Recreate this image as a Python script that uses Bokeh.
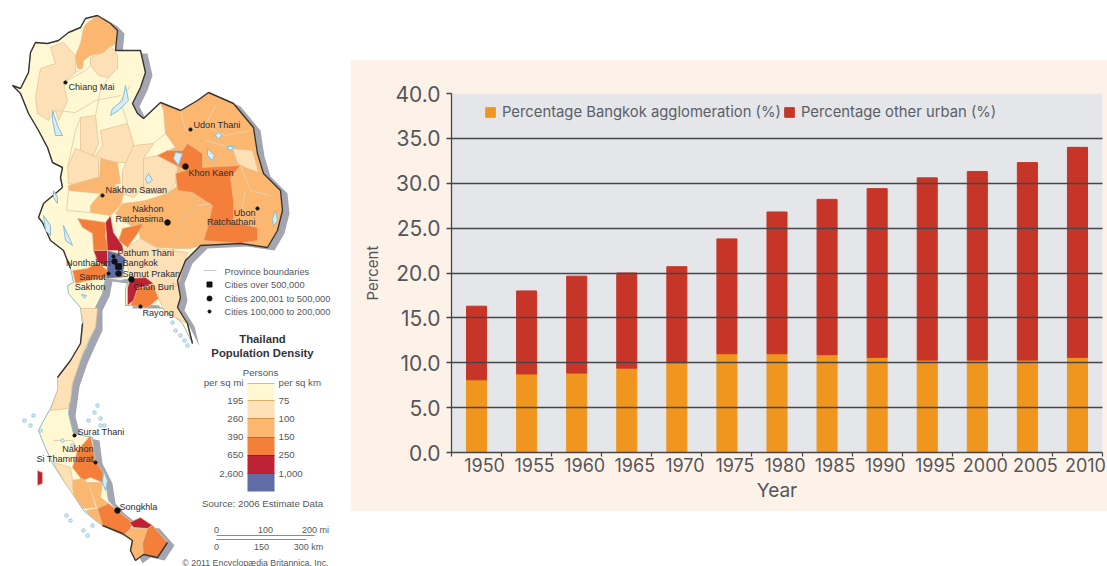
from bokeh.plotting import figure
from bokeh.embed import file_html
from bokeh.resources import INLINE
from bokeh.layouts import row
from bokeh.models import (ColumnDataSource, Range1d, FixedTicker, NumeralTickFormatter,
                          Legend, LegendItem, LinearAxis)
from bokeh.core.properties import value

# ---------- chart data ----------
years = [1950, 1955, 1960, 1965, 1970, 1975, 1980, 1985, 1990, 1995, 2000, 2005, 2010]
bangkok = [8.1, 8.75, 8.85, 9.4, 10.0, 11.0, 11.0, 10.9, 10.6, 10.3, 10.3, 10.3, 10.6]
other_urban = [8.2, 9.25, 10.8, 10.6, 10.7, 12.8, 15.8, 17.3, 18.8, 20.3, 21.0, 22.0, 23.4]
y_ticks = [0, 5, 10, 15, 20, 25, 30, 35, 40]
series_names = ["Percentage Bangkok agglomeration (%)", "Percentage other urban (%)"]

# ---------- map data (traced outline and provinces) ----------
C = ["#fff8d2", "#fde0b6", "#fbb670", "#f47f3a", "#bd2334", "#5f6ca5"]
outline = [(12,85),(20,88),(28,72),(30,52),(35,42),(47,43),(58,40),(68,32),(80,27),(85,18),(97,15),(110,23),(117,30),
    (115,50),(128,50),(140,50),(145,72),(140,87),(132,103),(137,113),(143,118),(160,102),(180,110),(197,100),(208,92),
    (233,103),(253,127),(257,153),(263,173),(280,190),(282,210),(277,230),(267,247),(240,243),(200,245),(192,253),
    (185,260),(177,280),(180,297),(177,307),(187,323),(192,343),(182,323),(173,315),(157,305),(140,305),(125,305),
    (125,287),(130,278),(120,280),(105,278),(102,293),(95,307),(95,327),(88,342),(80,360),(72,383),(68,413),(73,433),
    (92,437),(95,460),(105,480),(108,500),(117,510),(132,522),(152,525),(167,542),(157,557),(143,554),(135,560),
    (130,550),(132,540),(122,533),(102,525),(95,520),(83,510),(72,493),(63,480),(52,463),(43,443),(38,430),(43,420),
    (50,408),(57,390),(57,377),(70,360),(80,343),(82,323),(80,307),(68,293),(67,285),(73,282),(70,268),
    (63,250),(50,240),(42,222),(38,217),(43,203),(62,187),(60,177),(62,167),(52,162),(47,147),(38,130),(28,113),(20,93)]
provinces = [
    (1,[(50,47),(55,63),(40,68),(35,97),(37,113),(48,120),(55,110),(58,120),(67,100),(63,82),(75,72),(75,55),(63,42)]),
    (2,[(83,28),(86,23),(97,15),(110,23),(117,30),(115,43),(103,52),(90,55),(83,60),(82,68),(77,68),(75,55),(80,43)]),
    (1,[(90,57),(103,52),(110,45),(117,55),(117,68),(108,77),(98,75),(90,65)]),
    (1,[(80,117),(95,115),(98,143),(93,155),(80,152)]),
    (1,[(100,130),(127,123),(133,143),(132,162),(110,162),(95,155),(102,145)]),
    (1,[(75,148),(92,155),(98,158),(98,183),(80,185),(68,183),(67,167)]),
    (2,[(100,158),(117,162),(120,183),(108,185),(99,178)]),
    (1,[(133,145),(153,143),(143,158),(143,187),(133,197),(122,193),(122,170)]),
    (1,[(143,158),(157,155),(177,165),(175,183),(167,193),(143,193)]),
    (2,[(68,185),(97,177),(115,185),(123,193),(120,205),(110,215),(90,212),(90,205),(100,193),(68,190)]),
    (2,[(122,203),(132,202),(145,200),(167,193),(177,185),(192,193),(197,205),(180,222),(178,237),(190,248),(177,248),
        (157,247),(140,238),(138,230),(123,220),(115,213)]),
    (2,[(163,110),(160,102),(180,110),(197,100),(208,92),(233,103),(253,127),(257,153),(263,173),(280,190),(282,210),
        (277,230),(267,247),(240,243),(200,245),(190,248),(178,237),(180,222),(197,205),(192,193),(177,185),(177,165),
        (157,155),(175,147),(165,133)]),
    (1,[(232,148),(252,150),(258,172),(247,168),(237,163)]),
    (3,[(157,155),(167,150),(182,150),(187,143),(202,153),(202,167),(240,165),(230,177),(233,200),(233,222),(257,227),
        (257,240),(240,243),(203,240),(207,227),(212,205),(192,192),(177,190),(175,173),(185,170)]),
    (1,[(140,238),(157,248),(187,252),(178,283),(157,290),(145,277),(130,278),(125,258),(118,252),(123,250),(127,247)]),
    (1,[(157,290),(178,285),(180,297),(177,307),(187,323),(165,312),(158,298)]),
    (3,[(77,218),(92,220),(105,222),(105,237),(110,250),(93,250),(92,233),(82,227)]),
    (3,[(122,228),(143,223),(137,233),(127,247),(118,240)]),
    (4,[(110,215),(113,232),(122,245),(123,250),(107,250),(105,222)]),
    (4,[(93,250),(107,250),(107,267),(97,261)]),
    (5,[(107,250),(118,253),(125,258),(122,277),(105,278),(107,265)]),
    (3,[(72,270),(87,268),(97,262),(107,270),(105,278),(88,280),(75,283)]),
    (3,[(137,288),(153,285),(158,298),(147,307),(130,305),(133,298)]),
    (4,[(127,287),(130,278),(145,277),(153,283),(137,288),(133,300),(127,305)]),
    (1,[(80,308),(97,308),(95,327),(85,345),(72,383),(70,400),(67,408),(50,410),(57,390),(57,377),(70,360),(80,343),(83,323)]),
    (3,[(90,435),(95,460),(107,480),(102,482),(90,477),(82,480),(72,467),(77,450)]),
    (2,[(72,480),(82,478),(88,483),(95,507),(83,508),(73,495)]),
    (2,[(88,482),(102,482),(100,497),(108,503),(97,508)]),
    (1,[(53,462),(70,467),(72,480),(73,495),(63,480)]),
    (2,[(85,510),(97,508),(102,525),(95,520)]),
    (3,[(97,508),(108,503),(117,510),(132,522),(130,528),(123,535),(102,525)]),
    (4,[(129,522),(140,517),(152,525),(147,528),(133,527)]),
    (2,[(123,535),(130,528),(147,528),(142,543),(143,554),(135,560),(130,550),(132,540)]),
    (3,[(147,528),(152,525),(167,542),(157,557),(143,554),(142,543)]),
    (4,[(37,470),(42,472),(42,483),(37,485)]),
]
boundary_lines = [[(63,82),(85,70),(90,65)],[(75,72),(82,68)],[(95,115),(100,90),(108,77)],[(55,110),(75,112),(95,100),(120,95)],
    [(67,167),(75,130),(80,117)],[(127,123),(120,100),(130,85)],[(68,190),(66,210),(90,212)],[(153,143),(165,133)],
    [(180,110),(185,130),(205,125),(215,105)],[(205,125),(225,135),(250,130)],[(205,140),(230,147)],[(197,205),(210,203)],
    [(240,165),(250,190),(270,195)],[(245,190),(240,215)],[(53,440),(72,440),(77,450)]]
borders = [[(62,187),(60,177),(62,167),(52,162),(47,147),(38,130),(28,113),(20,93),(12,85),(20,88),(28,72),(30,52),(35,42),
            (47,43),(58,40),(68,32),(80,27),(85,18),(97,15),(110,23),(117,30),(115,50),(128,50),(140,50),(145,72),(140,87),
            (132,103),(137,113),(143,118),(160,102),(180,110),(197,100),(208,92),(233,103),(253,127),(257,153),(263,173),
            (280,190),(282,210),(277,230),(267,247),(240,243),(200,245),(192,253),(185,260),(177,280),(180,297),(177,307),
            (187,323),(192,343)],
           [(82,323),(80,343),(70,360),(57,377)],
           [(102,525),(122,533),(132,540),(130,550),(135,560),(143,554),(157,557),(167,542)],
           [(42,222),(38,217),(43,203),(62,187)],[(70,268),(63,250),(50,240),(42,222)]]
lakes = [[(125,85),(128,100),(118,110),(110,115),(112,108),(122,100)],[(52,110),(57,125),(62,135),(55,135),(52,120)],
    [(148,173),(152,180),(147,183),(145,178)],[(175,152),(182,153),(178,165),(173,158)],[(207,148),(214,155),(212,160),(207,155)],
    [(218,131),(221,135),(218,139),(215,135)],[(226,146),(234,146),(230,150)],[(275,210),(277,220),(273,226),(272,218)],
    [(43,215),(50,225),(50,235),(45,230)],[(63,225),(70,240),(72,245),(65,240)],[(53,190),(57,197),(57,203),(53,197)],
    [(81,294),(86,295),(84,298)],[(103,470),(107,480),(105,490),(102,482)]]
island_x = [172,175,180,184,187,24,30,33,40,94,97,100,104,66,70,83,87,92,62,72,88,100]
island_y = [322,330,335,340,345,420,425,415,430,412,405,418,425,515,520,530,535,525,440,445,420,425]

labels = ["Chiang Mai","Udon Thani","Khon Kaen","Nakhon Sawan","Nakhon","Ratchasima","Ubon","Ratchathani","Pathum Thani",
          "Bangkok","Nonthaburi","Samut Prakan","Samut","Sakhon","Chon Buri","Rayong","Surat Thani","Nakhon","Si Thammarat","Songkhla"]
label_x = [68,193,188,105,163,163,255,255,117,122,110,122,105,105,133,142,77,93,93,119]
label_y = [86,124,172,189,208,218,212,221,252,262,262,273,276,286,286,312,431,448,458,506]
label_align = ["left","left","left","left","right","right","right","right","left","left","right","left","right","right",
               "left","left","left","right","right","left"]
big_x, big_y = [185,167,118,131,114,117], [166,222,273,279,261,510]
small_x, small_y = [65,190,102,257,113,108,140,74,95], [82,129,195,208,256,273,306,435,462]
legend_lines = ["Province boundaries","Cities over 500,000","Cities 200,001 to 500,000","Cities 100,000 to 200,000"]
legend_line_y = [271,284,298,311]
swatch_edges = [383,400,418,437,455,473,491]
mi_labels = ["195","260","390","650","2,600"]
km_labels = ["75","100","150","250","1,000"]
swatch_label_y = [400,418,436,454,473]

# ---------- map figure ----------
m = figure(width=350, height=566, x_range=Range1d(0,350), y_range=Range1d(566,0), output_backend="svg",
           toolbar_location=None, min_border=0, outline_line_color=None, background_fill_color="white",
           border_fill_color="white", frame_align=False)
m.axis.visible = False
m.grid.visible = False
ox, oy = [p[0] for p in outline], [p[1] for p in outline]
m.patch([x+7 for x in ox], [y+3 for y in oy], fill_color="#a3a6b0", line_color=None)
m.patch(ox, oy, fill_color=C[0], line_color="#8fb8c8", line_width=1)
m.patches([[q[0] for q in pts] for _, pts in provinces], [[q[1] for q in pts] for _, pts in provinces],
          fill_color=[C[l] for l, _ in provinces], line_color="#e3bf94", line_width=0.7)
m.multi_line([[q[0] for q in b] for b in boundary_lines], [[q[1] for q in b] for b in boundary_lines],
             line_color="#e6d2ac", line_width=1)
m.multi_line([[q[0] for q in b] for b in borders], [[q[1] for q in b] for b in borders], line_color="#3a3532", line_width=1.4)
m.patches([[q[0] for q in b] for b in lakes], [[q[1] for q in b] for b in lakes],
          fill_color="#d8ecf2", line_color="#86bfd8", line_width=1)
m.scatter(island_x, island_y, size=3.5, marker="circle", fill_color="#d8ecf2", line_color="#86bfd8", line_width=0.8)
m.scatter(big_x, big_y, size=5.5, marker="circle", color="#111111")
m.scatter(small_x, small_y, size=3.2, marker="circle", color="#111111")
m.scatter([118], [266], size=5.5, marker="square", color="#111111")

map_src = ColumnDataSource(dict(x=label_x, y=label_y, t=labels, a=label_align))
m.text("x", "y", text="t", text_align="a", text_baseline="middle", source=map_src, text_font=value("Liberation Sans"),
       text_font_size="9.1px", text_color="#2b2b33")

# legend of the map
m.line([203,216], [270,270], line_color="#c9c9c4", line_width=1)
m.scatter([209], [284], size=5, marker="square", color="#111111")
m.scatter([209], [298], size=5, marker="circle", color="#111111")
m.scatter([209], [311], size=3, marker="circle", color="#111111")
m.text([224]*4, legend_line_y, text=legend_lines, text_baseline="middle", text_font=value("Liberation Sans"),
       text_font_size="9.3px", text_color="#55575c")
m.text([262,262], [338,352], text=["Thailand","Population Density"], text_align="center", text_baseline="middle",
       text_font=value("Liberation Sans"), text_font_size="11.3px", text_font_style="bold", text_color="#33333a")
m.text([260], [372], text=["Persons"], text_align="center", text_baseline="middle", text_font=value("Liberation Sans"),
       text_font_size="9.7px", text_color="#55575c")
m.quad(left=[247]*6, right=[274]*6, top=swatch_edges[:-1], bottom=swatch_edges[1:], fill_color=C, line_color=None)
m.segment([247]*6, swatch_edges[:-1], [274]*6, swatch_edges[:-1], line_color=["#c9bd90","#d9b070","#d98f45","#c8642a","#8e1a28","#3f4a80"], line_width=1)
m.text([243]*6, [382]+swatch_label_y, text=["per sq mi"]+mi_labels, text_align="right", text_baseline="middle",
       text_font=value("Liberation Sans"), text_font_size="9.7px", text_color="#55575c")
m.text([278]*6, [382]+swatch_label_y, text=["per sq km"]+km_labels, text_align="left", text_baseline="middle",
       text_font=value("Liberation Sans"), text_font_size="9.7px", text_color="#55575c")
m.text([262], [503], text=["Source: 2006 Estimate Data"], text_align="center", text_baseline="middle",
       text_font=value("Liberation Sans"), text_font_size="9.7px", text_color="#55575c")
m.text([216,265,315], [529]*3, text=["0","100","200 mi"], text_align="center", text_baseline="middle",
       text_font=value("Liberation Sans"), text_font_size="9px", text_color="#55575c")
m.text([216,261,308], [546]*3, text=["0","150","300 km"], text_align="center", text_baseline="middle",
       text_font=value("Liberation Sans"), text_font_size="9px", text_color="#55575c")
m.multi_line([[216,314],[216,306]], [[535,535],[539,539]], line_color="#8a8a8a", line_width=1)
m.text([328], [562], text=["\u00a9 2011 Encyclop\u00e6dia Britannica, Inc."], text_align="right", text_baseline="middle",
       text_font=value("Liberation Sans"), text_font_size="8.8px", text_color="#55575c")

# ---------- bar chart ----------
INK = "#55565a"
src = ColumnDataSource(dict(year=years, bangkok=bangkok, other=other_urban))
p = figure(width=757, height=452, x_range=Range1d(1947.5, 2012.5), y_range=Range1d(0, 40), output_backend="svg",
           toolbar_location=None, min_border_left=101, min_border_right=5, min_border_top=34, min_border_bottom=59,
           background_fill_color="#e4e6e9", border_fill_color="#fdf2e8", outline_line_color=None,
           x_axis_label="Year", y_axis_label="Percent", margin=(59, 0, 0, 0), frame_align=False)
bars = p.vbar_stack(["bangkok", "other"], x="year", width=2, color=["#f0961e", "#c63527"], source=src)

p.xgrid.visible = False
p.ygrid.ticker = FixedTicker(ticks=y_ticks)
p.ygrid.grid_line_color = "#45454a"
p.ygrid.grid_line_width = 1.3
p.ygrid.level = "overlay"

xa = p.xaxis[0]
label_ticks = [y + 0.8 for y in years]
xa.ticker = FixedTicker(ticks=label_ticks, minor_ticks=[y - 2.5 for y in years] + [years[-1] + 2.5])
xa.major_label_overrides = {t: str(y) for t, y in zip(label_ticks, years)}
xa.major_tick_line_color = None
xa.major_tick_out = 0
xa.major_tick_in = 0
xa.minor_tick_out = 4
xa.minor_tick_in = 0
xa.minor_tick_line_color = "#45454a"
xa.minor_tick_line_width = 1.2
xa.axis_line_color = "#45454a"
xa.axis_line_width = 1.3
xa.major_label_standoff = 1
xa.major_label_text_font = "Inter"
xa.major_label_text_font_size = "18px"
xa.major_label_text_color = INK
xa.axis_label_text_font = "Inter"
xa.axis_label_text_font_size = "19px"
xa.axis_label_text_font_style = "normal"
xa.axis_label_text_color = INK
xa.axis_label_standoff = 4

ya = p.yaxis[0]
ya.ticker = FixedTicker(ticks=y_ticks)
ya.formatter = NumeralTickFormatter(format="0.0")
ya.major_tick_out = 5
ya.major_tick_in = 0
ya.major_tick_line_color = "#45454a"
ya.major_tick_line_width = 1.3
ya.axis_line_color = "#45454a"
ya.axis_line_width = 1.3
ya.major_label_standoff = 6
ya.major_label_text_font = "Inter"
ya.major_label_text_font_size = "21px"
ya.major_label_text_color = INK
ya.axis_label_text_font = "Inter"
ya.axis_label_text_font_size = "15px"
ya.axis_label_text_font_style = "normal"
ya.axis_label_text_color = INK
ya.axis_label_standoff = 10

legend = Legend(items=[LegendItem(label=series_names[0], renderers=[bars[0]]),
                       LegendItem(label=series_names[1], renderers=[bars[1]])],
                orientation="horizontal", location=(33, 331), background_fill_alpha=0, border_line_color=None,
                glyph_width=12, glyph_height=12, label_standoff=6, spacing=2, padding=0, margin=0,
                label_text_font="Inter", label_text_font_size="14.8px", label_text_color="#5c6066")
p.add_layout(legend)

page = row(m, p)
open("out.html", "w").write(file_html(page, INLINE))
